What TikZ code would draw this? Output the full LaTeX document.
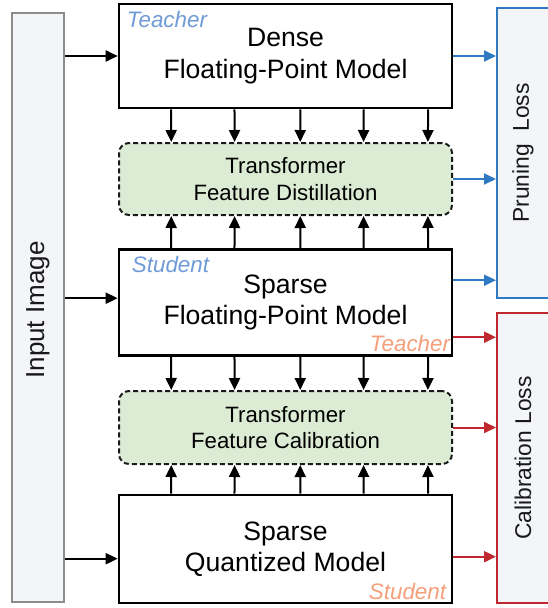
\documentclass[tikz,border=0pt]{standalone}
\usepackage{fontspec}
\setmainfont{Liberation Sans}
\usetikzlibrary{arrows.meta,calc}
\definecolor{tblue}{HTML}{6F9BD8}
\definecolor{torange}{HTML}{F4A07A}
\definecolor{pblue}{HTML}{2F78C2}
\definecolor{cred}{HTML}{C0282F}
\definecolor{greenfill}{HTML}{DBEBD4}
\definecolor{panel}{HTML}{F3F5F8}
\definecolor{panelborder}{HTML}{8C8C8C}
\begin{document}
\begin{tikzpicture}[x=1pt,y=-1pt,
  model/.style={draw=black, line width=2.6pt, fill=white, minimum width=333pt, align=center, inner sep=0pt, font=\fontsize{26.6}{31.5}\selectfont, execute at begin node={\rule{0pt}{24.5pt}}},
  feat/.style={draw=black!90, dash pattern=on 5pt off 3pt, line width=2pt, fill=greenfill, rounded corners=10pt, minimum width=333pt, align=center, inner sep=0pt, font=\fontsize{22.2}{26.5}\selectfont},
  sidebox/.style={line width=2pt, fill=panel, inner sep=0pt},
  sidetext/.style={rotate=90, font=\fontsize{22.8}{26}\selectfont, text=black!90},
  lab/.style={font=\fontsize{22.4}{24}\selectfont\itshape},
  arr/.style={line width=2pt, -{Triangle[length=12pt,width=11pt]}}
]
\useasboundingbox (0,0) rectangle (548,608);
\clip (0,0) rectangle (548,608);

% side panels
\node[sidebox, draw=panelborder, minimum width=52pt, minimum height=589pt] (inp) at (38,307.5) {};
\node[sidetext, font=\fontsize{26}{28}\selectfont] (inptxt) at (38,310) {Input Image};
\node[sidebox, draw=pblue, minimum width=63pt, minimum height=290pt] (prune) at (528.5,153) {};
\node[sidetext] (prunetxt) at (523,153) {Pruning\ \ Loss};
\node[sidebox, draw=cred, minimum width=63pt, minimum height=290pt] (calloss) at (528.5,458) {};
\node[sidetext] (callosstxt) at (523,458) {Calibration Loss};

% model boxes
\node[model, minimum height=104pt] (dense) at (285.5,56) {Dense\\Floating-Point Model};
\node[feat, minimum height=72pt] (dist) at (285.5,179) {Transformer\\Feature Distillation};
\node[model, minimum height=106pt] (sfp) at (285.5,302.5) {Sparse\\Floating-Point Model};
\node[feat, minimum height=73pt] (cal) at (285.5,427.5) {Transformer\\Feature Calibration};
\node[model, minimum height=108pt] (quant) at (285.5,549) {Sparse\\Quantized Model};

% role labels
\node[lab, text=tblue, anchor=base west, inner sep=0pt] (t1) at ($(dense.north west)+(9,25)$) {Teacher};
\node[lab, text=tblue, anchor=base west, inner sep=0pt] (s1) at ($(sfp.north west)+(14,24)$) {Student};
\node[lab, text=torange, anchor=base east, inner sep=0pt] (t2) at ($(sfp.south east)+(-3,-5)$) {Teacher};
\node[lab, text=torange, anchor=base east, inner sep=0pt] (s2) at ($(quant.south east)+(-7,-5)$) {Student};

% input arrows
\draw[arr] (inp.east |- dense.west) -- (dense.west);
\coordinate (sfpin) at ($(sfp.north west)+(0,50)$);
\draw[arr] (inp.east |- sfpin) -- (sfpin);
\coordinate (qin) at ($(quant.north west)+(0,65)$);
\draw[arr] (inp.east |- qin) -- (qin);

% feature arrows
\foreach \f in {0.159,0.348,0.544,0.733,0.925}{
  \draw[arr] ($(dense.south west)!\f!(dense.south east)$) -- ($(dist.north west)!\f!(dist.north east)$);
  \draw[arr] ($(sfp.north west)!\f!(sfp.north east)$) -- ($(dist.south west)!\f!(dist.south east)$);
  \draw[arr] ($(sfp.south west)!\f!(sfp.south east)$) -- ($(cal.north west)!\f!(cal.north east)$);
  \draw[arr] ($(quant.north west)!\f!(quant.north east)$) -- ($(cal.south west)!\f!(cal.south east)$);
}

% loss arrows
\draw[arr, pblue] (dense.east) -- (dense.east -| prune.west);
\draw[arr, pblue] (dist.east) -- (dist.east -| prune.west);
\coordinate (sfpb) at ($(sfp.north east)+(0,32)$);
\draw[arr, pblue] (sfpb) -- (sfpb -| prune.west);
\coordinate (sfpr) at ($(sfp.north east)+(0,89)$);
\draw[arr, cred] (sfpr) -- (sfpr -| calloss.west);
\draw[arr, cred] (cal.east) -- (cal.east -| calloss.west);
\coordinate (qr) at ($(quant.north east)+(0,63)$);
\draw[arr, cred] (qr) -- (qr -| calloss.west);
\end{tikzpicture}
\end{document}
